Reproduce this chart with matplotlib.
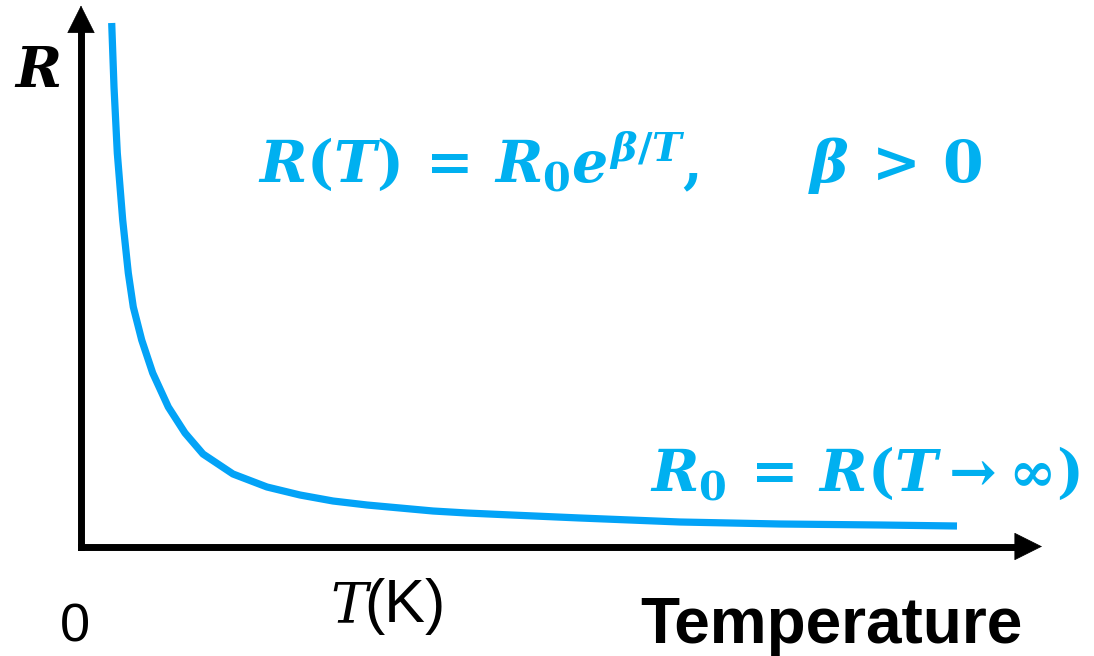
import matplotlib
matplotlib.use("Agg")
import matplotlib.pyplot as plt

plt.rcParams['mathtext.fontset'] = 'custom'
plt.rcParams['mathtext.rm'] = 'DejaVu Serif:bold'
plt.rcParams['mathtext.it'] = 'DejaVu Serif:bold:italic'
plt.rcParams['mathtext.bf'] = 'DejaVu Serif:bold'

# Curve (arbitrary units)
temperature = [3.07, 3.30, 3.63, 4.17, 4.73, 5.23, 6.07, 7.17, 8.73, 10.4, 12.2, 15.2,
               18.6, 21.9, 25.2, 28.6, 31.9, 35.2, 38.6, 41.9, 49.9, 59.9, 69.9, 79.9, 87.6]
resistance = [52.35, 45.95, 39.35, 32.65, 27.35, 23.95, 20.65, 17.35, 13.95, 11.35, 9.25, 7.25,
              5.95, 5.15, 4.55, 4.15, 3.85, 3.55, 3.35, 3.2, 2.85, 2.45, 2.25, 2.15, 2.05]

x_axis_end = 96.1
y_axis_end = 54.1

W, H = 1094, 656
fig = plt.figure(figsize=(W / 100, H / 100), dpi=100)
ax = fig.add_axes([0, 0, 1, 1])
ax.set_xlim(-8.1, (W - 81) / 10)
ax.set_ylim((546.5 - H) / 10, 546.5 / 10)
ax.axis('off')

curve_color = '#03A3F7'
text_color = '#00B0F0'

ax.plot(temperature, resistance, color=curve_color, lw=5.2, solid_capstyle='butt',
        solid_joinstyle='round', zorder=3)

# axes with arrows
ax.plot([0, x_axis_end - 2.5], [0, 0], color='black', lw=5, solid_capstyle='projecting', zorder=2)
ax.plot([0, 0], [0, y_axis_end - 2.5], color='black', lw=5, solid_capstyle='projecting', zorder=2)
ax.annotate('', xy=(x_axis_end, 0), xytext=(x_axis_end - 3, 0),
            arrowprops=dict(arrowstyle='-|>,head_length=1.0,head_width=0.5', color='black',
                            lw=0.5, mutation_scale=19, shrinkA=0, shrinkB=0))
ax.annotate('', xy=(0, y_axis_end), xytext=(0, y_axis_end - 3),
            arrowprops=dict(arrowstyle='-|>,head_length=1.0,head_width=0.5', color='black',
                            lw=0.5, mutation_scale=19, shrinkA=0, shrinkB=0))

def fx(px):
    return px / W

def fy(py):
    return 1 - py / H

fig.text(fx(14), fy(87), r'$R$', fontsize=40, color='black', ha='left', va='baseline')
fig.text(fx(258), fy(182), r'$R(T)\,=\,R_0e^{\beta/T},$', fontsize=41, color=text_color,
         ha='left', va='baseline')
fig.text(fx(808), fy(182), r'$\beta\,>\,0$', fontsize=42, color=text_color,
         ha='left', va='baseline')
fig.text(fx(650), fy(491), r'$R_0\,=\,R(T\rightarrow\infty)$', fontsize=41, color=text_color,
         ha='left', va='baseline')

fig.text(fx(75), fy(642), '0', fontsize=39, family='Liberation Sans', color='black',
         ha='center', va='baseline')
fig.text(fx(330), fy(622), 'T', fontsize=40, family='DejaVu Serif', style='italic',
         color='black', ha='left', va='baseline')
fig.text(fx(364), fy(622), '(K)', fontsize=44, family='Liberation Sans', color='black',
         ha='left', va='baseline')
fig.text(fx(640), fy(643), 'Temperature', fontsize=46, family='Liberation Sans',
         weight='bold', color='black', ha='left', va='baseline')

fig.savefig('out.png', dpi=100)
